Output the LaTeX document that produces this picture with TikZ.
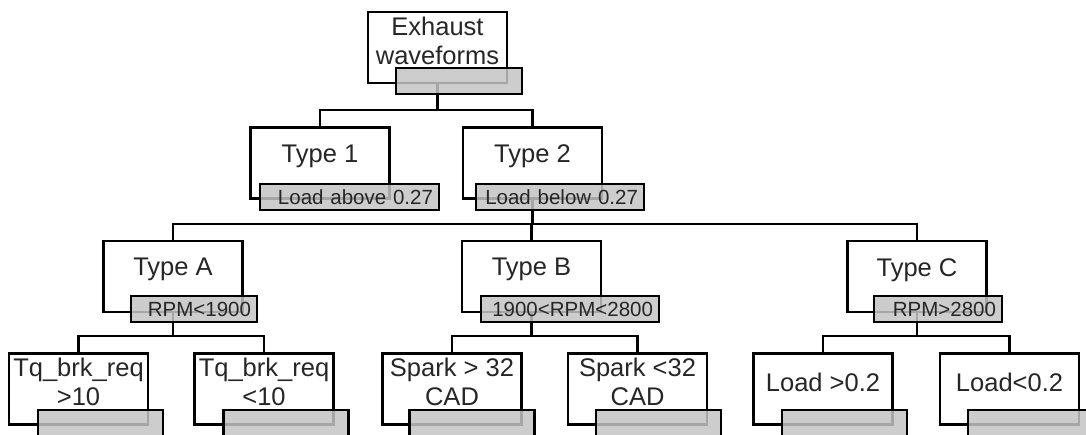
\documentclass[tikz,border=0pt]{standalone}
\usepackage{fontspec}
\setmainfont{Liberation Sans}
\colorlet{wfline}{black}
\colorlet{wfsplitfill}{black!23}
\tikzset{
  wfbox/.style={
    draw=wfline,
    line width=1.25pt,
    fill=white,
    minimum width=69.5pt,
    minimum height=35.5pt,
    inner sep=0pt
  },
  wftext/.style={font=\fontsize{12.75}{14.5}\selectfont,align=center,inner sep=0pt,
                 text=black!85},
  wfsplit/.style={draw=wfline,line width=1.3pt,fill=wfsplitfill,
                  fill opacity=0.85,text opacity=1,
                  minimum height=13pt,inner xsep=3pt,inner ysep=0pt,
                  text width=#1,align=right,text=black!85,
                  font=\fontsize{10.25}{12}\selectfont},
  wfbranch/.style={draw=wfline,line width=1.25pt}
}

\begin{document}
\begin{tikzpicture}[x=0.5pt,y=-0.5pt]
  \useasboundingbox (0,0) rectangle (1086,434);
  \clip (0,0) rectangle (1086,434);

  % tree boxes
  \node[wfbox] (root) at (437.5,47.5) {};
  \node[wfbox] (t1) at (320,163) {};
  \node[wfbox] (t2) at (532.5,163) {};
  \node[wfbox] (tA) at (173,276.5) {};
  \node[wfbox] (tB) at (531.5,276.5) {};
  \node[wfbox] (tC) at (917,276.5) {};
  \node[wfbox] (tq1) at (78.5,389) {};
  \node[wfbox] (tq2) at (264,389) {};
  \node[wfbox] (sp1) at (452,389) {};
  \node[wfbox] (sp2) at (637.5,389) {};
  \node[wfbox] (ld1) at (823,389) {};
  \node[wfbox] (ld2) at (1009.5,389) {};

  \node[wftext] (rootT) at ([yshift=-15pt]root.north) {Exhaust\\waveforms};
  \node[wftext] (t1T) at ([yshift=-15pt]t1.north) {Type 1};
  \node[wftext] (t2T) at ([yshift=-15pt]t2.north) {Type 2};
  \node[wftext] (tAT) at ([yshift=-15pt]tA.north) {Type A};
  \node[wftext] (tBT) at ([yshift=-15pt]tB.north) {Type B};
  \node[wftext] (tCT) at ([yshift=-15pt]tC.north) {Type C};
  \node[wftext] (tq1T) at ([yshift=-15pt]tq1.north) {Tq\_brk\_req\\>10};
  \node[wftext] (tq2T) at ([yshift=-15pt]tq2.north) {Tq\_brk\_req\\<10};
  \node[wftext] (sp1T) at ([yshift=-15pt]sp1.north) {Spark > 32\\CAD};
  \node[wftext] (sp2T) at ([yshift=-15pt]sp2.north) {Spark <32\\CAD};
  \node[wftext] (ld1T) at ([yshift=-15pt]ld1.north) {Load >0.2};
  \node[wftext] (ld2T) at ([yshift=-15pt]ld2.north) {Load<0.2};

  % branches: parent stem, then the bar over its children
  \coordinate (bar1) at (0,110);
  \coordinate (bar2) at (0,224);
  \coordinate (bar3) at (0,336);
  \draw[wfbranch] (root.south) -- (root.south |- bar1);
  \draw[wfbranch] (t1.north) -- (t1.north |- bar1) -- (t2.north |- bar1) -- (t2.north);
  \draw[wfbranch] (t2.south) -- (t2.south |- bar2);
  \draw[wfbranch] (tA.north) -- (tA.north |- bar2) -- (tC.north |- bar2) -- (tC.north);
  \draw[wfbranch] (tB.north) -- (tB.north |- bar2);
  \draw[wfbranch] (tA.south) -- (tA.south |- bar3);
  \draw[wfbranch] (tq1.north) -- (tq1.north |- bar3) -- (tq2.north |- bar3) -- (tq2.north);
  \draw[wfbranch] (tB.south) -- (tB.south |- bar3);
  \draw[wfbranch] (sp1.north) -- (sp1.north |- bar3) -- (sp2.north |- bar3) -- (sp2.north);
  \draw[wfbranch] (tC.south) -- (tC.south |- bar3);
  \draw[wfbranch] (ld1.north) -- (ld1.north |- bar3) -- (ld2.north |- bar3) -- (ld2.north);

  % split conditions
  \node[wfsplit=57pt] (rootS) at (459,81) {};
  \node[wfsplit=83.5pt] (t1S) at (349.5,197) {Load above 0.27};
  \node[wfsplit=78pt] (t2S) at (560,197) {Load below 0.27};
  \node[wfsplit=57pt] (tAS) at (194,309) {RPM<1900};
  \node[wfsplit=83pt] (tBS) at (570,309) {1900<RPM<2800};
  \node[wfsplit=58pt] (tCS) at (938,309) {RPM>2800};
  \node[wfsplit=56.5pt] (tq1S) at (100.5,423) {};
  \node[wfsplit=56.5pt] (tq2S) at (286,423) {};
  \node[wfsplit=56.5pt] (sp1S) at (472,423) {};
  \node[wfsplit=56.5pt] (sp2S) at (658.5,423) {};
  \node[wfsplit=56.5pt] (ld1S) at (844.5,423) {};
  \node[wfsplit=56.5pt] (ld2S) at (1030.5,423) {};
\end{tikzpicture}
\end{document}
